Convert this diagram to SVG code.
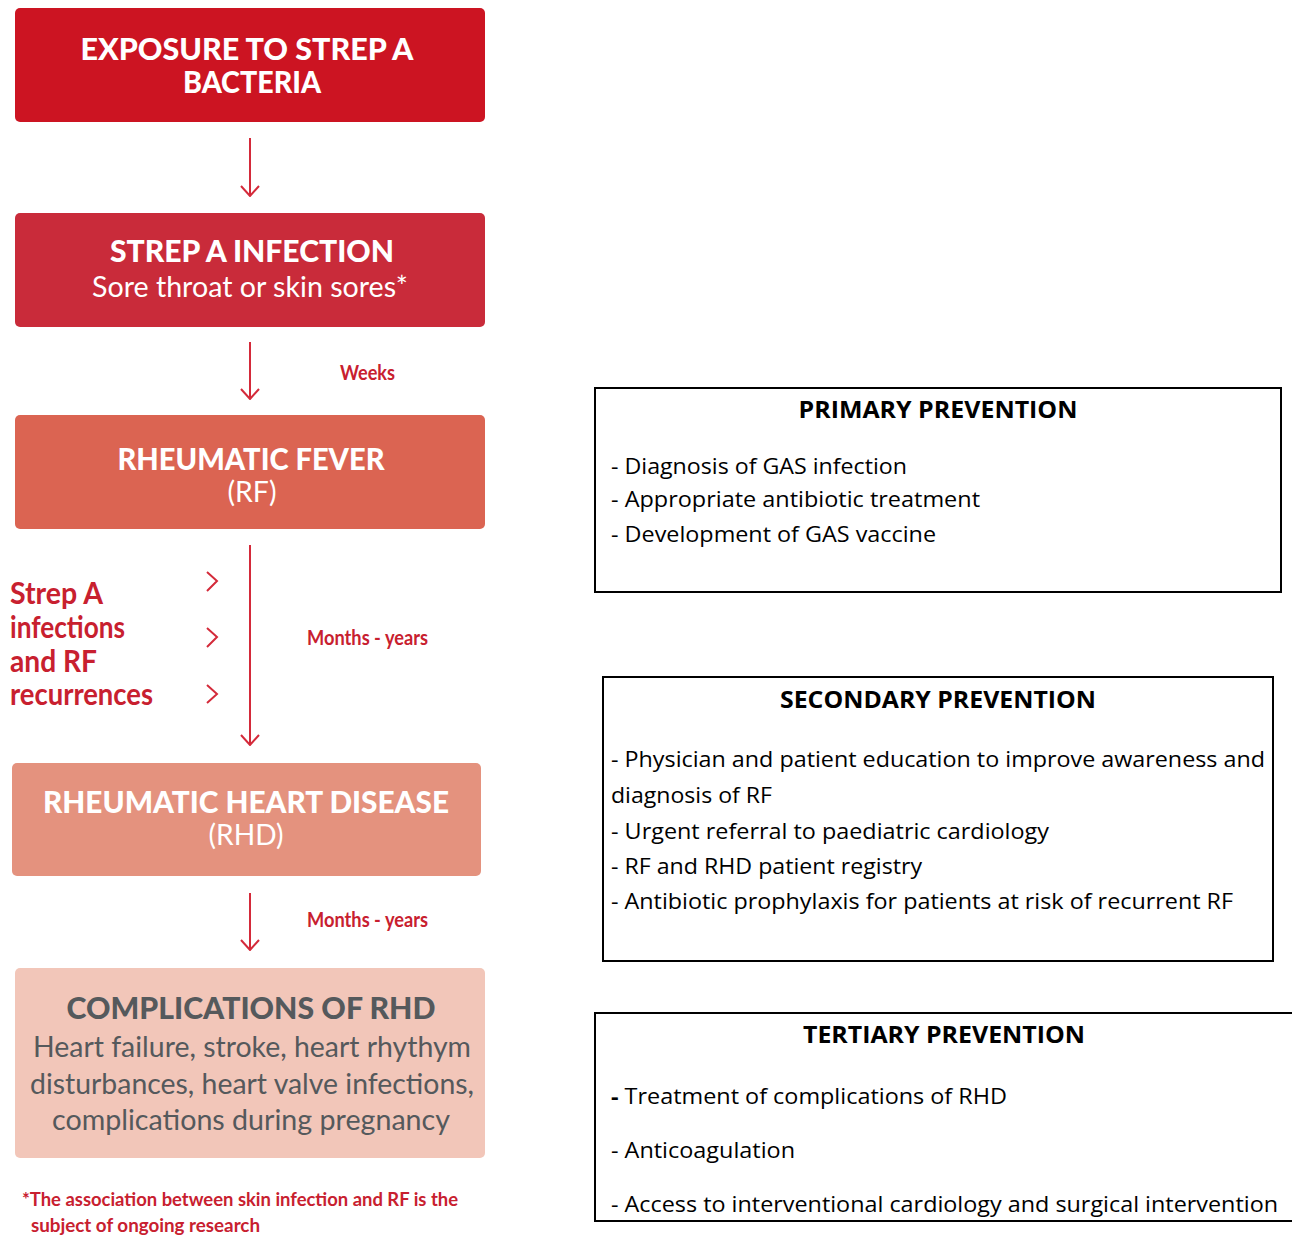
<svg xmlns="http://www.w3.org/2000/svg" width="1292" height="1237" viewBox="0 0 1292 1237">
<defs>
<style>
.flow{font-family:"Lato","Liberation Sans",sans-serif;}
.hd{font-weight:900;fill:#ffffff;font-size:30px;}
.sub{font-weight:400;fill:#ffffff;font-size:28px;}
.red{fill:#c8202f;}
.lbl{font-size:21px;font-weight:700;}
.side{font-size:30px;font-weight:700;}
.foot{font-size:19px;font-weight:700;}
.cmp{fill:#55595c;}
.pv{font-family:"Open Sans","Liberation Sans",sans-serif;fill:#000;}
.pt{font-weight:700;font-size:23px;}
.pi{font-size:22px;}
.pbox{fill:#ffffff;stroke:#000;stroke-width:2;}
.conn{stroke:#d42a3a;stroke-width:2;fill:none;}
</style>
<marker id="ah" viewBox="0 0 12 20" refX="11" refY="10" markerWidth="12" markerHeight="20" markerUnits="userSpaceOnUse" orient="auto">
<path d="M1,1 L11,10 L1,19" fill="none" stroke="#d42a3a" stroke-width="2"/>
</marker>
</defs>
<rect width="1292" height="1237" fill="#ffffff"/>

<g id="connectors">
<line class="conn" x1="250" y1="138" x2="250" y2="196" marker-end="url(#ah)"/>
<line class="conn" x1="250" y1="342" x2="250" y2="399" marker-end="url(#ah)"/>
<line class="conn" x1="250" y1="545" x2="250" y2="745" marker-end="url(#ah)"/>
<line class="conn" x1="250" y1="893" x2="250" y2="950" marker-end="url(#ah)"/>
<path class="conn" stroke-width="2.5" d="M207,572 L217,581 L207,591"/>
<path class="conn" stroke-width="2.5" d="M207,628 L217,637 L207,647"/>
<path class="conn" stroke-width="2.5" d="M207,685 L217,694 L207,703"/>
</g>

<g id="node-exposure" class="flow">
<rect x="15" y="8" width="470" height="114" rx="5" fill="#cc1422"/>
<text class="hd" x="247" y="60" text-anchor="middle" textLength="333" lengthAdjust="spacingAndGlyphs">EXPOSURE TO STREP A</text>
<text class="hd" x="252" y="93" text-anchor="middle" textLength="138" lengthAdjust="spacingAndGlyphs">BACTERIA</text>
</g>

<g id="node-infection" class="flow">
<rect x="15" y="213" width="470" height="114" rx="5" fill="#c92b3a"/>
<text class="hd" x="252" y="262" text-anchor="middle" textLength="284" lengthAdjust="spacingAndGlyphs">STREP A INFECTION</text>
<text class="sub" x="250" y="297" text-anchor="middle" textLength="316" lengthAdjust="spacingAndGlyphs">Sore throat or skin sores*</text>
</g>

<g id="node-rf" class="flow">
<rect x="15" y="415" width="470" height="114" rx="5" fill="#db6452"/>
<text class="hd" x="251" y="470" text-anchor="middle" textLength="267" lengthAdjust="spacingAndGlyphs">RHEUMATIC FEVER</text>
<text class="sub" x="252" y="502" text-anchor="middle" textLength="49" lengthAdjust="spacingAndGlyphs">(RF)</text>
</g>

<g id="node-rhd" class="flow">
<rect x="12" y="763" width="469" height="113" rx="5" fill="#e4927e"/>
<text class="hd" x="246" y="813" text-anchor="middle" textLength="406" lengthAdjust="spacingAndGlyphs">RHEUMATIC HEART DISEASE</text>
<text class="sub" x="246" y="845" text-anchor="middle" textLength="75" lengthAdjust="spacingAndGlyphs">(RHD)</text>
</g>

<g id="node-complications" class="flow">
<rect x="15" y="968" width="470" height="190" rx="5" fill="#f2c6b9"/>
<text class="hd cmp" x="251" y="1019" text-anchor="middle" textLength="369" lengthAdjust="spacingAndGlyphs">COMPLICATIONS OF RHD</text>
<text class="sub cmp" x="252" y="1057" text-anchor="middle" textLength="438" lengthAdjust="spacingAndGlyphs">Heart failure, stroke, heart rhythym</text>
<text class="sub cmp" x="252" y="1094" text-anchor="middle" textLength="444" lengthAdjust="spacingAndGlyphs">disturbances, heart valve infections,</text>
<text class="sub cmp" x="251" y="1130" text-anchor="middle" textLength="398" lengthAdjust="spacingAndGlyphs">complications during pregnancy</text>
</g>

<g id="labels" class="flow red">
<text class="lbl" x="340" y="380" textLength="55" lengthAdjust="spacingAndGlyphs">Weeks</text>
<text class="lbl" x="307" y="645" textLength="121" lengthAdjust="spacingAndGlyphs">Months - years</text>
<text class="lbl" x="307" y="927" textLength="121" lengthAdjust="spacingAndGlyphs">Months - years</text>
<text class="side" x="10" y="604" textLength="93" lengthAdjust="spacingAndGlyphs">Strep A</text>
<text class="side" x="10" y="638" textLength="115" lengthAdjust="spacingAndGlyphs">infections</text>
<text class="side" x="10" y="672" textLength="87" lengthAdjust="spacingAndGlyphs">and RF</text>
<text class="side" x="10" y="705" textLength="143" lengthAdjust="spacingAndGlyphs">recurrences</text>
<text class="foot" x="22" y="1206" textLength="436" lengthAdjust="spacingAndGlyphs">*The association between skin infection and RF is the</text>
<text class="foot" x="31" y="1232" textLength="229" lengthAdjust="spacingAndGlyphs">subject of ongoing research</text>
</g>

<g id="node-primary" class="pv">
<rect class="pbox" x="595" y="388" width="686" height="204"/>
<text class="pt" x="938" y="418" text-anchor="middle" textLength="279" lengthAdjust="spacingAndGlyphs">PRIMARY PREVENTION</text>
<text class="pi" x="611" y="474" textLength="296" lengthAdjust="spacingAndGlyphs">- Diagnosis of GAS infection</text>
<text class="pi" x="611" y="507" textLength="369" lengthAdjust="spacingAndGlyphs">- Appropriate antibiotic treatment</text>
<text class="pi" x="611" y="542" textLength="325" lengthAdjust="spacingAndGlyphs">- Development of GAS vaccine</text>
</g>

<g id="node-secondary" class="pv">
<rect class="pbox" x="603" y="677" width="670" height="284"/>
<text class="pt" x="938" y="708" text-anchor="middle" textLength="316" lengthAdjust="spacingAndGlyphs">SECONDARY PREVENTION</text>
<text class="pi" x="611" y="767" textLength="654" lengthAdjust="spacingAndGlyphs">- Physician and patient education to improve awareness and</text>
<text class="pi" x="611" y="803" textLength="161" lengthAdjust="spacingAndGlyphs">diagnosis of RF</text>
<text class="pi" x="611" y="839" textLength="438" lengthAdjust="spacingAndGlyphs">- Urgent referral to paediatric cardiology</text>
<text class="pi" x="611" y="874" textLength="311" lengthAdjust="spacingAndGlyphs">- RF and RHD patient registry</text>
<text class="pi" x="611" y="909" textLength="622" lengthAdjust="spacingAndGlyphs">- Antibiotic prophylaxis for patients at risk of recurrent RF</text>
</g>

<g id="node-tertiary" class="pv">
<path d="M1292,1013 L595,1013 L595,1221 L1292,1221" fill="#ffffff" stroke="#000" stroke-width="2"/>
<text class="pt" x="944" y="1043" text-anchor="middle" textLength="282" lengthAdjust="spacingAndGlyphs">TERTIARY PREVENTION</text>
<text class="pi" x="611" y="1104" textLength="396" lengthAdjust="spacingAndGlyphs"><tspan font-weight="700">-</tspan> Treatment of complications of RHD</text>
<text class="pi" x="611" y="1158" textLength="184" lengthAdjust="spacingAndGlyphs">- Anticoagulation</text>
<text class="pi" x="611" y="1212" textLength="667" lengthAdjust="spacingAndGlyphs">- Access to interventional cardiology and surgical intervention</text>
</g>
</svg>
